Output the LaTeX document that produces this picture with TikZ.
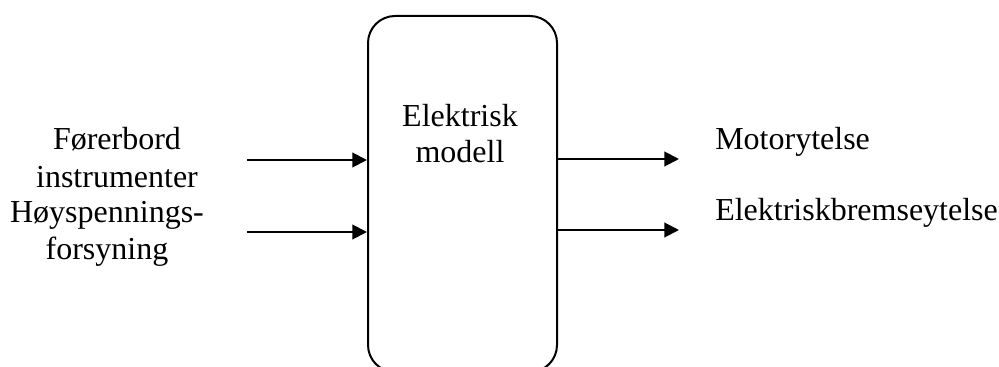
\documentclass[tikz,border=0pt]{standalone}
\usepackage{fontspec}
\setmainfont{Liberation Serif}
\usetikzlibrary{arrows.meta}
\begin{document}
\begin{tikzpicture}[x=0.75pt,y=-0.75pt,
  lbl/.style={inner sep=0pt,anchor=base,font=\fontsize{24}{28}\selectfont},
  lblw/.style={lbl,anchor=base west},
  modelbox/.style={draw,line width=1.5pt,rounded corners=20.25pt,
    minimum width=141.75pt,minimum height=267pt,inner sep=0pt},
  arr/.style={line width=1.5pt,-{Triangle[length=11pt,width=11pt]}}]
  \useasboundingbox (0,0) rectangle (999,367);
  \clip (0,0) rectangle (999,367);

  % central block (its lower edge runs past the page)
  \node[modelbox] (box) at (462.5,194) {};
  \node[lbl] (m1) at (460,127) {Elektrisk};
  \node[lbl] (m2) at (460,163) {modell};

  % inputs
  \node[lbl] (a1) at (117,150) {Førerbord};
  \node[lbl] (a2) at (117,187) {instrumenter};
  \node[lbl] (b1) at (107,222) {Høyspennings-};
  \node[lbl] (b2) at (107,259) {forsyning};
  \coordinate (in1) at (247,160);
  \coordinate (in2) at (247,232);
  \draw[arr] (in1) -- (in1 -| box.west);
  \draw[arr] (in2) -- (in2 -| box.west);

  % outputs
  \coordinate (out1) at (679,159);
  \coordinate (out2) at (679,230);
  \draw[arr] (out1 -| box.east) -- (out1);
  \draw[arr] (out2 -| box.east) -- (out2);
  \node[lblw] (o1) at (715,150) {Motorytelse};
  \node[lblw] (o2) at (715,220) {Elektriskbremseytelse};
\end{tikzpicture}
\end{document}
